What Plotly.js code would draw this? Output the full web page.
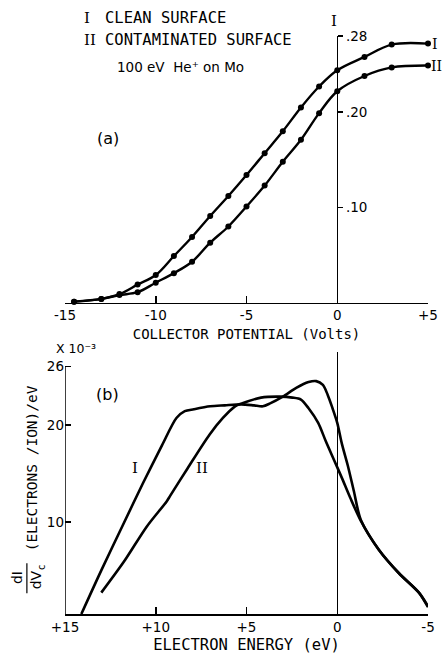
<!DOCTYPE html>
<html>
<head>
<meta charset="utf-8">
<script src="https://cdn.plot.ly/plotly-3.0.1.min.js"></script>
<style>html,body{margin:0;padding:0;background:#fff;}#chart{width:442px;height:654px;}</style>
</head>
<body>
<div id="chart"></div>
<script>
// ---- Panel (a): collector current vs collector potential ----
const potential = [-14.5, -13, -12, -11, -10, -9, -8, -7, -6, -5, -4, -3, -2, -1, 0, 1.5, 3, 5];
const currentClean = [0.001, 0.004, 0.009, 0.019, 0.029, 0.049, 0.069, 0.091, 0.112, 0.134, 0.157, 0.180, 0.205, 0.227, 0.244, 0.258, 0.271, 0.272];
const currentContam = [0.001, 0.004, 0.008, 0.011, 0.021, 0.031, 0.043, 0.063, 0.080, 0.101, 0.123, 0.148, 0.171, 0.199, 0.222, 0.238, 0.247, 0.249];
const potentialTicks = [-15, -10, -5, 0, 5];
const potentialTickText = ['-15', '-10', '-5', '0', '+5'];
const currentTicks = [0.10, 0.20, 0.28];
const currentTickText = ['.10', '.20', '.28'];

// ---- Panel (b): energy distribution dI/dVc ----
const energyClean = [14.1, 13.0, 11.75, 10.7, 9.65, 8.86, 8.4, 7.9, 7.0, 6.2, 5.3, 4.6, 4.1, 3.7, 3.0, 2.26, 1.58, 1.16, 0.79, 0.53, 0.26, 0.0, -0.26, -0.58, -0.91, -1.3, -2.3, -3.4, -4.5, -5.0];
const yieldClean = [0.5, 5.0, 9.9, 14.0, 17.9, 20.7, 21.4, 21.6, 21.9, 22.0, 22.1, 22.0, 21.9, 22.2, 22.9, 23.8, 24.4, 24.5, 24.1, 23.1, 21.7, 20.2, 18.0, 15.8, 13.2, 10.2, 7.1, 4.7, 2.7, 1.3];
const energyContam = [13.0, 11.75, 10.5, 9.4, 9.2, 8.25, 7.03, 6.3, 5.63, 5.26, 4.2, 3.16, 2.47, 2.0, 1.58, 1.05, 0.63, 0.16, -0.26, -0.71, -1.3, -2.3, -3.4, -4.5, -5.0];
const yieldContam = [2.7, 5.9, 9.5, 12.1, 12.7, 15.5, 19.0, 20.7, 21.9, 22.2, 22.8, 22.9, 22.8, 22.6, 21.7, 20.2, 18.3, 16.3, 14.5, 12.5, 10.1, 7.1, 4.7, 2.7, 1.2];
const energyTicks = [15, 10, 5, 0, -5];
const energyTickText = ['+15', '+10', '+5', '0', '-5'];
const yieldTicks = [10, 20, 26];
const yieldTickText = ['10', '20', '26'];
const yieldRange = [0.5, 27.5];

const FONT = 'DejaVu Sans, Liberation Sans, sans-serif';
const MONO = 'DejaVu Sans Mono, Liberation Mono, monospace';
const SERIF = 'DejaVu Serif, Liberation Serif, serif';

const traces = [
  {x: potential, y: currentClean, xaxis: 'x', yaxis: 'y', type: 'scatter', mode: 'lines+markers',
   line: {color: '#000', width: 2.4, shape: 'spline', smoothing: 1}, marker: {color: '#000', size: 6}, cliponaxis: false},
  {x: potential, y: currentContam, xaxis: 'x', yaxis: 'y', type: 'scatter', mode: 'lines+markers',
   line: {color: '#000', width: 2.4, shape: 'spline', smoothing: 1}, marker: {color: '#000', size: 6}, cliponaxis: false},
  {x: energyClean, y: yieldClean, xaxis: 'x2', yaxis: 'y2', type: 'scatter', mode: 'lines',
   line: {color: '#000', width: 2.6, shape: 'spline', smoothing: 0.8}},
  {x: energyContam, y: yieldContam, xaxis: 'x2', yaxis: 'y2', type: 'scatter', mode: 'lines',
   line: {color: '#000', width: 2.6, shape: 'spline', smoothing: 0.8}}
];

const axBase = {showgrid: false, color: '#000', linecolor: '#000', tickcolor: '#000', tickfont: {family: FONT, size: 13.5, color: '#000'}};

function note(text, x, y, opts) {
  return Object.assign({text: text, xref: 'paper', yref: 'paper', x: x, y: y, xanchor: 'center', yanchor: 'middle', showarrow: false, font: {family: MONO, size: 15, color: '#000'}}, opts || {});
}

const layout = {
  width: 442, height: 654,
  margin: {l: 65, r: 14, t: 36, b: 40},
  paper_bgcolor: '#fff', plot_bgcolor: '#fff',
  showlegend: false,
  font: {family: FONT, color: '#000', size: 13},
  xaxis: Object.assign({}, axBase, {
    domain: [0, 1], anchor: 'y', range: [-15, 5],
    tickmode: 'array', tickvals: potentialTicks, ticktext: potentialTickText,
    ticks: 'inside', ticklen: 7, tickwidth: 1.5,
    showline: true, linewidth: 1.5,
    zeroline: true, zerolinecolor: '#000', zerolinewidth: 1.5,
    title: {text: 'COLLECTOR POTENTIAL (Volts)', standoff: 7, font: {family: MONO, size: 14, color: '#000'}}
  }),
  yaxis: Object.assign({}, axBase, {
    domain: [0.5386, 1], anchor: 'free', position: 0.75, side: 'right', range: [0, 0.28],
    tickmode: 'array', tickvals: currentTicks, ticktext: currentTickText,
    ticks: 'outside', ticklen: 5, tickwidth: 1.5,
    showline: false, zeroline: false
  }),
  xaxis2: Object.assign({}, axBase, {
    domain: [0, 1], anchor: 'y2', range: [15, -5],
    tickmode: 'array', tickvals: energyTicks, ticktext: energyTickText,
    ticks: 'inside', ticklen: 7, tickwidth: 1.5,
    showline: true, linewidth: 1.5,
    zeroline: true, zerolinecolor: '#000', zerolinewidth: 1.5,
    title: {text: 'ELECTRON ENERGY (eV)', standoff: 6, font: {family: MONO, size: 15.5, color: '#000'}}
  }),
  yaxis2: Object.assign({}, axBase, {
    domain: [0, 0.4533], anchor: 'x2', range: yieldRange,
    tickmode: 'array', tickvals: yieldTicks, ticktext: yieldTickText,
    ticks: 'inside', ticklen: 6, tickwidth: 1.5,
    showline: false, zeroline: false
  }),
  shapes: [
    {type: 'line', xref: 'x2', yref: 'y2', x0: energyTicks[0], x1: energyTicks[0], y0: yieldRange[0], y1: yieldTicks[yieldTicks.length - 1], line: {color: '#000', width: 1.5}},
    {type: 'line', xref: 'paper', yref: 'paper', x0: -0.105, x1: -0.105, y0: 0.088, y1: 0.036, line: {color: '#000', width: 1.2}}
  ],
  annotations: [
    note('I', 0.0468, 1.031, {xanchor: 'left', font: {family: SERIF, size: 15, color: '#000'}}),
    note('CLEAN SURFACE', 0.104, 1.031, {xanchor: 'left', font: {family: MONO, size: 15.5, color: '#000'}}),
    note('II', 0.0468, 0.993, {xanchor: 'left', font: {family: SERIF, size: 15, color: '#000'}}),
    note('CONTAMINATED SURFACE', 0.104, 0.993, {xanchor: 'left', font: {family: MONO, size: 15.5, color: '#000'}}),
    note('100 eV  He⁺ on Mo', 0.317, 0.946, {font: {family: FONT, size: 13.5, color: '#000'}}),
    note('(a)', 0.118, 0.8235, {font: {family: FONT, size: 16, color: '#000'}}),
    note('(b)', 0.118, 0.379, {font: {family: FONT, size: 16, color: '#000'}}),
    {text: 'I', xref: 'x', yref: 'y', x: potential[potential.length - 1], y: currentClean[currentClean.length - 1], xanchor: 'left', yanchor: 'middle', xshift: 2, showarrow: false, font: {family: SERIF, size: 14, color: '#000'}},
    {text: 'II', xref: 'x', yref: 'y', x: potential[potential.length - 1], y: currentContam[currentContam.length - 1], xanchor: 'left', yanchor: 'middle', xshift: 1, showarrow: false, font: {family: SERIF, size: 14, color: '#000'}},
    {text: 'I', xref: 'x', yref: 'y', x: 0, y: currentTicks[currentTicks.length - 1], xanchor: 'center', yanchor: 'bottom', xshift: -3, yshift: 4, showarrow: false, font: {family: SERIF, size: 15, color: '#000'}},
    {text: 'I', xref: 'x2', yref: 'y2', x: 11.15, y: 15.5, xanchor: 'center', yanchor: 'middle', showarrow: false, font: {family: SERIF, size: 15, color: '#000'}},
    {text: 'II', xref: 'x2', yref: 'y2', x: 7.47, y: 15.5, xanchor: 'center', yanchor: 'middle', showarrow: false, font: {family: SERIF, size: 15, color: '#000'}},
    note('X 10⁻³', 0.03, 0.46, {font: {family: FONT, size: 12.5, color: '#000'}}),
    note('(ELECTRONS /ION)/eV', -0.0909, 0.252, {textangle: -90, font: {family: MONO, size: 14.5, color: '#000'}}),
    note('dI', -0.132, 0.0623, {textangle: -90, font: {family: FONT, size: 14, color: '#000'}}),
    note('dV', -0.079, 0.0588, {textangle: -90, font: {family: FONT, size: 14, color: '#000'}}),
    note('c', -0.066, 0.0813, {textangle: -90, font: {family: FONT, size: 10, color: '#000'}})
  ]
};

Plotly.newPlot('chart', traces, layout, {displayModeBar: false, staticPlot: true});
</script>
</body>
</html>
